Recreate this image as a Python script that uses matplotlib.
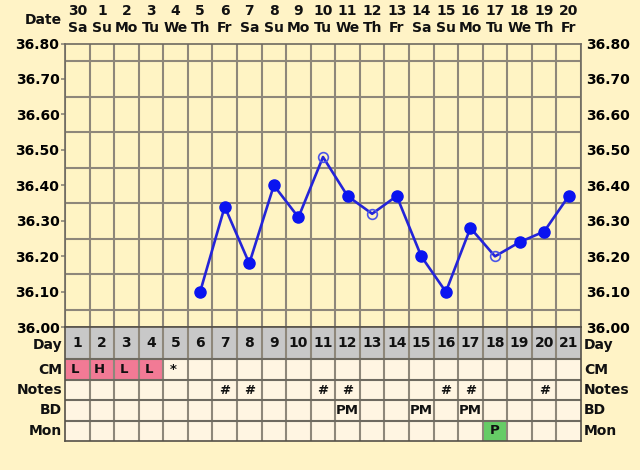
import matplotlib
matplotlib.use('Agg')
import matplotlib.pyplot as plt
from matplotlib.patches import Rectangle
import numpy as np

# ---------------- data ----------------
dates = ['30', '1', '2', '3', '4', '5', '6', '7', '8', '9', '10',
         '11', '12', '13', '14', '15', '16', '17', '18', '19', '20']
weekdays = ['Sa', 'Su', 'Mo', 'Tu', 'We', 'Th', 'Fr', 'Sa', 'Su', 'Mo', 'Tu',
            'We', 'Th', 'Fr', 'Sa', 'Su', 'Mo', 'Tu', 'We', 'Th', 'Fr']
cycle_days = list(range(1, 22))
temps = [None, None, None, None, None,
         36.10, 36.34, 36.18, 36.40, 36.31, 36.48, 36.37, 36.32, 36.37,
         36.20, 36.10, 36.28, 36.20, 36.24, 36.27, 36.37]
open_days = [11, 13, 18]
cm_days = [1, 2, 3, 4, 5]
cm_values = ['L', 'H', 'L', 'L', '*']
cm_pink_days = [1, 2, 3, 4]
notes_days = [7, 8, 11, 12, 16, 17, 20]
bd_days = [12, 15, 17]
bd_values = ['PM', 'PM', 'PM']
mon_days = [18]
mon_values = ['P']
ytick_values = [36.00, 36.10, 36.20, 36.30, 36.40, 36.50, 36.60, 36.70, 36.80]
row_names = ['Day', 'CM', 'Notes', 'BD', 'Mon']

# ---------------- style ----------------
W, H = 640, 470
BG = '#FFF3C6'
PLOT_BG = '#FFF4C4'
CELL_BG = '#FFF5E2'
DAY_BG = '#C8C8C8'
PINK = '#F27A95'
GREEN = '#66CC66'
GRID = '#8E877A'
LINE = '#2424D8'
DOT = '#0A14F0'
FONT = dict(family='DejaVu Sans', weight='bold', size=9.5, color='#111111')
BIG = dict(FONT, size=10)


def px_rect(x0, y0, x1, y1):
    return [x0 / W, 1 - y1 / H, (x1 - x0) / W, (y1 - y0) / H]


fig = plt.figure(figsize=(W / 100, H / 100), dpi=100, facecolor=BG)

L, R, T, B = 65, 581, 43.5, 327.3
pw, ph = R - L, B - T
ax = fig.add_axes(px_rect(L, T, R, B))
ax.set_facecolor(PLOT_BG)
ax.set_xlim(0.5, 21.5)
ax.set_ylim(36.0, 36.8)

ax.set_xticks(np.arange(0.5, 22, 1), minor=True)
ax.set_xticks([])
ax.set_yticks(ytick_values)
ax.set_yticklabels([f'{v:.2f}' for v in ytick_values])
ax.set_yticks(np.arange(36.0, 36.81, 0.05), minor=True)
ax.grid(True, which='minor', color=GRID, lw=1.5)
ax.tick_params(which='minor', length=0)
ax.tick_params(axis='y', which='major', length=3, color=GRID, width=1.2,
               labelleft=True, labelright=True, right=False, pad=1)
for lab in ax.get_yticklabels():
    lab.set_fontfamily('DejaVu Sans')
    lab.set_fontweight('bold')
    lab.set_fontsize(10)
for s in ax.spines.values():
    s.set_color('#6E6A60')
    s.set_linewidth(1.2)

# temperature line
xs = [d for d, t in zip(cycle_days, temps) if t is not None]
ys = [t for t in temps if t is not None]
ax.plot(xs, ys, color=LINE, lw=1.9, zorder=3)
fx = [d for d, t in zip(xs, ys) if d not in open_days]
fy = [t for d, t in zip(xs, ys) if d not in open_days]
ax.plot(fx, fy, 'o', ms=8, color=DOT, zorder=4)
ox = [d for d, t in zip(xs, ys) if d in open_days]
oy = [t for d, t in zip(xs, ys) if d in open_days]
ax.plot(ox, oy, 'o', ms=7, mfc='none', mec='#4A55E8', mew=1.2, zorder=4)

# header: dates and weekdays
xtr = ax.get_xaxis_transform()
for d, dt, wd in zip(cycle_days, dates, weekdays):
    ax.text(d, 1 + (T - 11) / ph, dt, transform=xtr, ha='center', va='center',
            clip_on=False, **BIG)
    ax.text(d, 1 + (T - 28) / ph, wd, transform=xtr, ha='center', va='center',
            clip_on=False, **BIG)
ax.text(-3 / pw, 1 + (T - 20) / ph, 'Date', transform=ax.transAxes,
        ha='right', va='center', clip_on=False, **BIG)

# ---------------- table ----------------
TB = 441
rows = [327.3, 359, 380, 400, 420.5, 441]
tax = fig.add_axes(px_rect(L, B, R, TB))
tax.set_xlim(0.5, 21.5)
tax.set_ylim(TB, B)
tax.set_facecolor(CELL_BG)
tax.set_xticks([])
tax.set_yticks([])
for s in tax.spines.values():
    s.set_color('#555048')
    s.set_linewidth(1.2)

for d in cycle_days:
    tax.add_patch(Rectangle((d - 0.5, rows[0]), 1, rows[1] - rows[0],
                            facecolor=DAY_BG, edgecolor='none', zorder=1))
for d in cm_pink_days:
    tax.add_patch(Rectangle((d - 0.5, rows[1]), 1, rows[2] - rows[1],
                            facecolor=PINK, edgecolor='none', zorder=1))
for d in mon_days:
    tax.add_patch(Rectangle((d - 0.5, rows[4]), 1, rows[5] - rows[4],
                            facecolor=GREEN, edgecolor='none', zorder=1))

tax.vlines(np.arange(1.5, 21.5, 1), rows[0], rows[-1], color=GRID, lw=1.5, zorder=2)
tax.hlines(rows[1:-1], 0.5, 21.5, color='#6E6A60', lw=1.5, zorder=2)


def rowc(i):
    return (rows[i] + rows[i + 1]) / 2


for d in cycle_days:
    tax.text(d, rowc(0), str(d), ha='center', va='center', zorder=3, **BIG)
for d, v in zip(cm_days, cm_values):
    tax.text(d - 0.1, rowc(1), v, ha='center', va='center', zorder=3, **FONT)
for d in notes_days:
    tax.text(d, rowc(2), '#', ha='center', va='center', zorder=3, **FONT)
for d, v in zip(bd_days, bd_values):
    tax.text(d, rowc(3), v, ha='center', va='center', zorder=3, **FONT)
for d, v in zip(mon_days, mon_values):
    tax.text(d, rowc(4), v, ha='center', va='center', zorder=3, **FONT)

# row labels on both sides
tr_l = tax.get_yaxis_transform()
for i, name in enumerate(row_names):
    yc = rowc(i) + (2 if i == 0 else 0)
    tax.text(-0.006, yc, name, transform=tr_l, ha='right', va='center',
             clip_on=False, **BIG)
    tax.text(1.006, yc, name, transform=tr_l, ha='left', va='center',
             clip_on=False, **BIG)

fig.savefig('out.png', dpi=100, facecolor=BG)
